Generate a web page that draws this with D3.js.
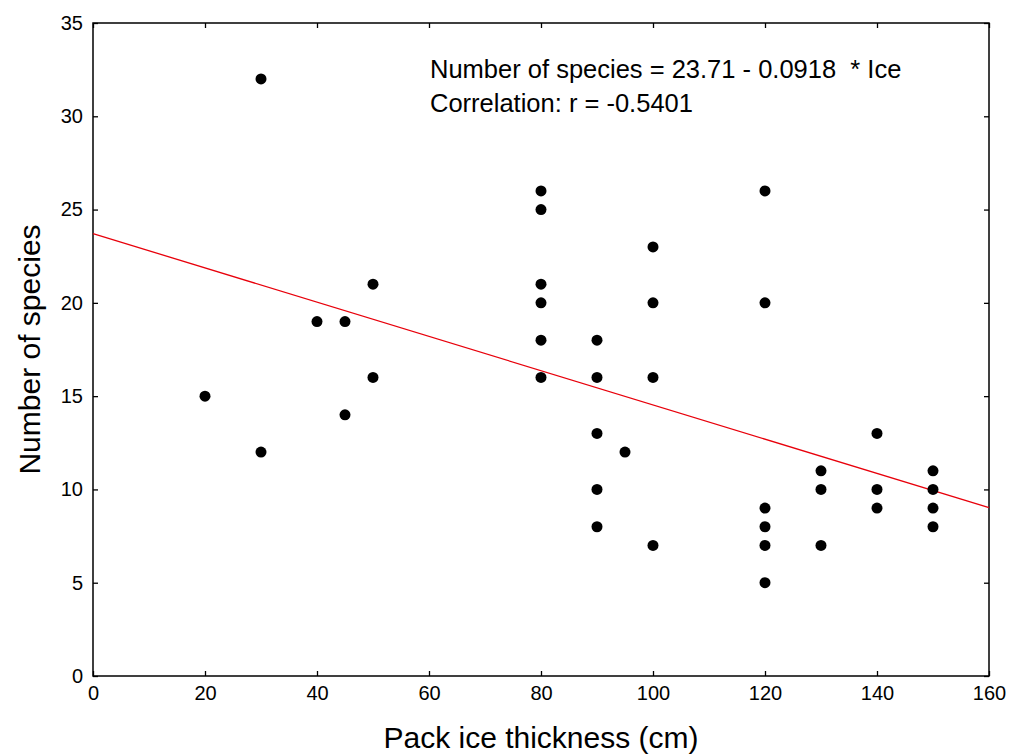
<!DOCTYPE html>
<html>
<head>
<meta charset="utf-8">
<script src="https://cdn.jsdelivr.net/npm/d3@7"></script>
<style>
  body { margin: 0; background: #fff; }
  svg { font-family: Arial, "Liberation Sans", sans-serif; }
</style>
</head>
<body>
<svg id="chart" width="1017" height="755"></svg>
<script>
// observations: pack ice thickness (cm) and number of species
const ice = [20, 30, 30, 40, 45, 45, 50, 50,
    80, 80, 80, 80, 80, 80,
    90, 90, 90, 90, 90, 95,
    100, 100, 100, 100,
    120, 120, 120, 120, 120, 120,
    130, 130, 130, 140, 140, 140,
    150, 150, 150, 150]
const species = [15, 32, 12, 19, 19, 14, 21, 16,
    26, 25, 21, 20, 18, 16,
    18, 16, 13, 10, 8, 12,
    23, 20, 16, 7,
    26, 20, 9, 8, 7, 5,
    11, 10, 7, 13, 10, 9,
    11, 10, 9, 8]

const xTicks = [0, 20, 40, 60, 80, 100, 120, 140, 160]
const yTicks = [0, 5, 10, 15, 20, 25, 30, 35]

// fitted line: species = 23.71 - 0.0918 * ice
const intercept = 23.71,
    slope = -0.0918

const svg = d3.select('#chart')

const plotLeft = 93, plotRight = 989, plotTop = 23, plotBottom = 676

const x = d3.scaleLinear().domain([0, 160]).range([plotLeft, plotRight])
const y = d3.scaleLinear().domain([0, 35]).range([plotBottom, plotTop])

const styleAxis = g => {
    g.select('.domain').remove()
    g.selectAll('line').attr('stroke', '#000').attr('stroke-width', 1.3)
    g.selectAll('text').attr('fill', '#000').style('font-size', '20px')
        .style('font-family', 'Arial, "Liberation Sans", sans-serif')
}

svg.append('g')
    .attr('transform', 'translate(0,' + plotBottom + ')')
    .call(d3.axisBottom(x).tickValues(xTicks).tickSize(-5).tickSizeOuter(0).tickPadding(10))
    .call(styleAxis)

svg.append('g')
    .attr('transform', 'translate(0,' + plotTop + ')')
    .call(d3.axisTop(x).tickValues(xTicks).tickSize(-5).tickSizeOuter(0).tickFormat(''))
    .call(styleAxis)

svg.append('g')
    .attr('transform', 'translate(' + plotLeft + ',0)')
    .call(d3.axisLeft(y).tickValues(yTicks).tickSize(-5).tickSizeOuter(0).tickPadding(10))
    .call(styleAxis)

svg.append('g')
    .attr('transform', 'translate(' + plotRight + ',0)')
    .call(d3.axisRight(y).tickValues(yTicks).tickSize(-5).tickSizeOuter(0).tickFormat(''))
    .call(styleAxis)

// frame
svg.append('rect')
    .attr('x', plotLeft)
    .attr('y', plotTop)
    .attr('width', plotRight - plotLeft)
    .attr('height', plotBottom - plotTop)
    .attr('fill', 'none')
    .attr('stroke', '#000')
    .attr('stroke-width', 1.5)

// regression line
const line = d3.line()
    .x(d => x(d))
    .y(d => y(intercept + slope * d))

svg.append('path')
    .datum([0, 160])
    .attr('d', line)
    .attr('fill', 'none')
    .attr('stroke', '#e8000b')
    .attr('stroke-width', 1.3)

// points
svg.append('g')
    .selectAll('circle')
    .data(ice)
    .enter()
    .append('circle')
    .attr('cx', d => x(d))
    .attr('cy', (d, i) => y(species[i]))
    .attr('r', 5.5)
    .attr('fill', '#000')

// annotation
svg.append('text')
    .attr('x', 430)
    .attr('y', 78)
    .style('font-size', '25.5px')
    .style('white-space', 'pre')
    .text('Number of species = 23.71 - 0.0918  * Ice')

svg.append('text')
    .attr('x', 430)
    .attr('y', 112)
    .style('font-size', '25.5px')
    .text('Correlation: r = -0.5401')

// axis titles
svg.append('text')
    .attr('x', (plotLeft + plotRight) / 2)
    .attr('y', 748)
    .attr('text-anchor', 'middle')
    .style('font-size', '30px')
    .text('Pack ice thickness (cm)')

svg.append('text')
    .attr('transform', 'translate(40,' + ((plotTop + plotBottom) / 2) + ') rotate(-90)')
    .attr('text-anchor', 'middle')
    .style('font-size', '30px')
    .text('Number of species')
</script>
</body>
</html>
